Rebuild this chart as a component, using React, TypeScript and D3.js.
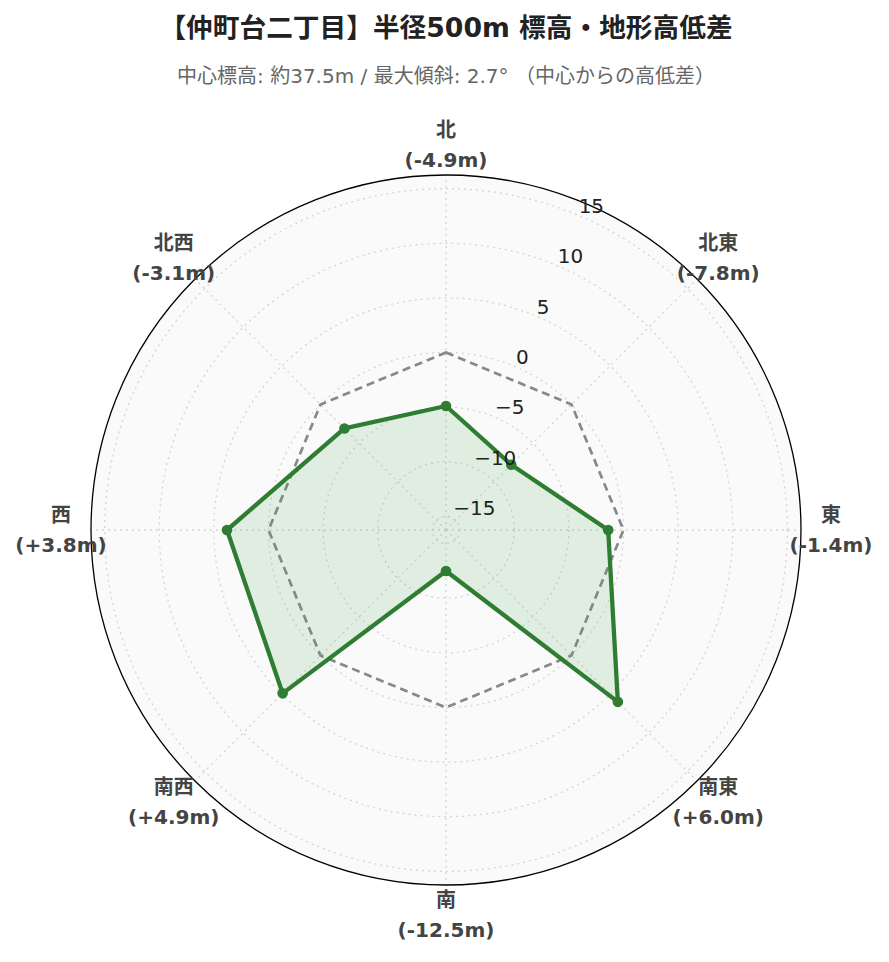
import React from 'react';
import * as d3 from 'd3';

// 方位と中心からの高低差 (m)
const directions = ['北', '北東', '東', '南東', '南', '南西', '西', '北西'];
const diffs = [-4.9, -7.8, -1.4, 6.0, -12.5, 4.9, 3.8, -3.1];
const radialTicks = [-15, -10, -5, 0, 5, 10, 15];
const radialDomain = [-16.25, 16.25];

const title = '【仲町台二丁目】半径500m 標高・地形高低差';
const subtitle = '中心標高: 約37.5m / 最大傾斜: 2.7° （中心からの高低差）';

const W = 889;
const H = 962;
const cx = 446;
const cy = 530;
const R = 355;
const FONT = "'DejaVu Sans', 'Noto Sans CJK JP', sans-serif";
const GREEN = '#2e7d32';

const App: React.FC = () => {
  const r = d3.scaleLinear().domain(radialDomain).range([0, R]);
  const angle = d3.scalePoint<string>().domain(directions).range([0, 2 * Math.PI * (7 / 8)]);

  const polar = (a: number, rad: number): [number, number] => [
    cx + rad * Math.sin(a),
    cy - rad * Math.cos(a),
  ];

  const line = d3
    .lineRadial<number>()
    .angle((_, i) => angle(directions[i]) as number)
    .radius(d => r(d))
    .curve(d3.curveLinearClosed);

  const zeroLine = d3
    .lineRadial<string>()
    .angle(d => angle(d) as number)
    .radius(() => r(0))
    .curve(d3.curveLinearClosed);

  const tickAngle = Math.PI / 8;
  const fmt = d3.format('d');

  const label = (v: number) => `(${v > 0 ? '+' : ''}${v.toFixed(1)}m)`;

  return (
    <>
      <style>{`body{margin:0}`}</style>
      <svg width={W} height={H} style={{ display: 'block', background: '#fff', fontFamily: FONT }}>
        <text x={cx} y={37} textAnchor="middle" fontSize={26.7} fontWeight="bold" fill="#222">
          {title}
        </text>
        <text x={cx} y={83} textAnchor="middle" fontSize={20} fill="#666">
          {subtitle}
        </text>

        <circle cx={cx} cy={cy} r={R} fill="#fafafa" />

        {/* grid */}
        {radialTicks.map(t => (
          <circle
            key={t}
            cx={cx}
            cy={cy}
            r={r(t)}
            fill="none"
            stroke="#d4d4d4"
            strokeWidth={1.3}
            strokeDasharray="2,4"
          />
        ))}
        {directions.map(d => {
          const [x, y] = polar(angle(d) as number, R);
          return (
            <line
              key={d}
              x1={cx}
              y1={cy}
              x2={x}
              y2={y}
              stroke="#d4d4d4"
              strokeWidth={1.3}
              strokeDasharray="2,4"
            />
          );
        })}

        <g transform={`translate(${cx},${cy})`}>
          <path d={zeroLine(directions) || ''} fill="none" stroke="#888" strokeWidth={2.7} strokeDasharray="8,5" />
          <path
            d={line(diffs) || ''}
            fill="rgba(76,175,80,0.15)"
            stroke={GREEN}
            strokeWidth={4.3}
            strokeLinejoin="round"
          />
        </g>
        {diffs.map((v, i) => {
          const [x, y] = polar(angle(directions[i]) as number, r(v));
          return <circle key={i} cx={x} cy={y} r={5.3} fill={GREEN} />;
        })}

        <circle cx={cx} cy={cy} r={R} fill="none" stroke="#000" strokeWidth={1.3} />

        {/* radial tick labels */}
        {radialTicks.map(t => {
          const [x, y] = polar(tickAngle, r(t));
          return (
            <text key={t} x={x + 2} y={y - 9} fontSize={20} fill="#222" dominantBaseline="central">
              {fmt(t)}
            </text>
          );
        })}

        {/* angular labels */}
        {directions.map((d, i) => {
          const [x, y] = polar(angle(d) as number, 385);
          return (
            <g key={d} fontSize={20} fontWeight="bold" fill="#444" textAnchor="middle">
              <text x={x} y={y - 15} dominantBaseline="central">
                {d}
              </text>
              <text x={x} y={y + 15} dominantBaseline="central">
                {label(diffs[i])}
              </text>
            </g>
          );
        })}
      </svg>
    </>
  );
};

export default App;
